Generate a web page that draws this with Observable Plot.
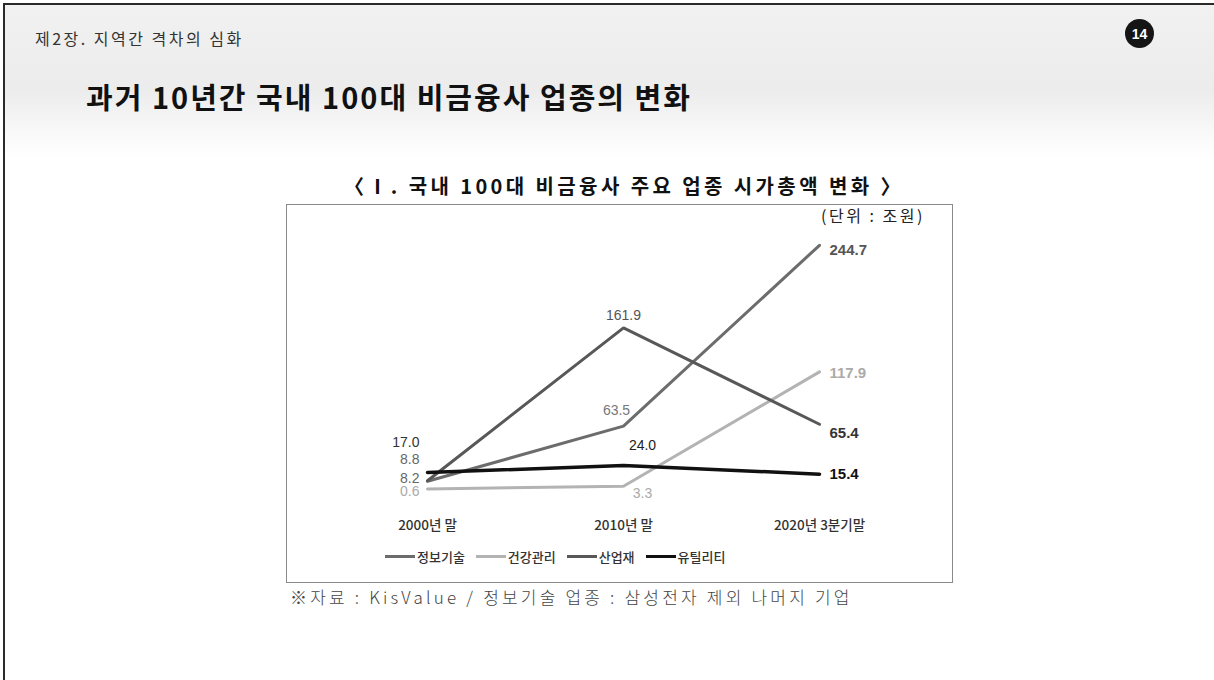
<!DOCTYPE html>
<html><head><meta charset="utf-8">
<script src="https://cdn.jsdelivr.net/npm/d3@7"></script>
<script src="https://cdn.jsdelivr.net/npm/@observablehq/plot@0.6"></script>
<style>
html,body{margin:0;padding:0;background:#fff;}
#page{position:relative;width:1214px;height:680px;overflow:hidden;font-family:"Noto Sans CJK KR","Noto Sans",sans-serif;box-sizing:border-box;border-left:2px solid #2a2a2a;border-top:2px solid #2a2a2a;margin-left:3px;margin-top:3px;}
.hdr{position:absolute;left:0;top:0;width:100%;height:155px;background:linear-gradient(#f1f1f1 0%,#ececec 55%,#fafafa 85%,#fff 100%);}
.chap{position:absolute;left:30px;top:21px;font-size:16px;color:#333;letter-spacing:2.5px;white-space:nowrap;}
.pgnum{position:absolute;left:1120px;top:14px;width:29px;height:29px;border-radius:50%;background:#151515;color:#fff;font:bold 14px "Liberation Sans",sans-serif;display:flex;align-items:center;justify-content:center;}
.title{position:absolute;left:81px;top:70px;font-size:29px;font-weight:bold;color:#111;letter-spacing:2px;white-space:nowrap;}
.ctitle{position:absolute;left:339px;top:166px;font-size:20px;font-weight:bold;color:#111;letter-spacing:3.4px;white-space:nowrap;}
.box{position:absolute;left:281px;top:199px;width:665px;height:377px;border:1.5px solid #8a8a8a;background:#fff;}
.unit{position:absolute;left:534px;top:-2px;font-size:16px;color:#222;letter-spacing:2.5px;white-space:nowrap;}
#chart{position:absolute;left:0;top:0;}
.legend{position:absolute;left:98px;top:342px;display:flex;align-items:center;font-size:13px;color:#333;font-weight:500;white-space:nowrap;}
.legend .it{display:flex;align-items:center;margin-right:11px;}
.legend .sw{width:30px;height:3px;margin-right:2px;}
.note{position:absolute;left:285px;top:579px;font-size:17px;color:#444;letter-spacing:3.2px;white-space:nowrap;font-weight:300;}
</style></head>
<body>
<div id="page">
  <div class="hdr"></div>
  <div class="chap">제2장. 지역간 격차의 심화</div>
  <div class="pgnum">14</div>
  <div class="title">과거 10년간 국내 100대 비금융사 업종의 변화</div>
  <div class="ctitle">〈Ⅰ. 국내 100대 비금융사 주요 업종 시가총액 변화 〉</div>
  <div class="box">
    <div class="unit">(단위 : 조원)</div>
    <div id="chart"></div>
    <div class="legend" id="legend"></div>
  </div>
  <div class="note">※자료 : KisValue / 정보기술 업종 : 삼성전자 제외 나머지 기업</div>
</div>
<script>
// ---- data ----
const periods = ["2000년 말", "2010년 말", "2020년 3분기말"];
const sectors = ["정보기술", "건강관리", "산업재", "유틸리티"];
const itValues = [8.2, 63.5, 244.7];
const healthValues = [0.6, 3.3, 117.9];
const industrialValues = [8.8, 161.9, 65.4];
const utilityValues = [17.0, 24.0, 15.4];

// ---- styles ----
const colors = {"정보기술": "#6c6c6c", "건강관리": "#b3b3b3", "산업재": "#585858", "유틸리티": "#111111"};
const widths = {"정보기술": 3, "건강관리": 3, "산업재": 3, "유틸리티": 3.5};
const labelColors = {"정보기술": ["#666", "#777", "#555"], "건강관리": ["#aaa", "#aaa", "#aaa"], "산업재": ["#666", "#555", "#333"], "유틸리티": ["#333", "#222", "#111"]};
// per-label offsets [dx, dy]
const labelOffsets = {
  "정보기술": [[-8, -3], [-7, -16], [10, 5]],
  "건강관리": [[-8, 3], [19, 7], [10, 1]],
  "산업재": [[-8, -21], [0, -12], [10, 9]],
  "유틸리티": [[-8, -30], [19, -20], [10, 0]]
};

const seriesValues = {"정보기술": itValues, "건강관리": healthValues, "산업재": industrialValues, "유틸리티": utilityValues};
const rows = [];
for (const s of sectors) periods.forEach((p, i) => rows.push({sector: s, period: p, i, value: seriesValues[s][i]}));

const drawOrder = ["건강관리", "정보기술", "산업재", "유틸리티"];
const marks = [];
for (const s of drawOrder) {
  marks.push(Plot.line(rows.filter(d => d.sector === s), {x: "period", y: "value", stroke: colors[s], strokeWidth: widths[s], strokeLinejoin: "miter"}));
}
for (const s of sectors) {
  for (const d of rows.filter(r => r.sector === s)) {
    const [dx, dy] = labelOffsets[s][d.i];
    const anchor = d.i === 0 ? "end" : d.i === 2 ? "start" : "middle";
    marks.push(Plot.text([d], {
      x: "period", y: "value", text: r => r.value.toFixed(1),
      dx, dy, textAnchor: anchor,
      fill: labelColors[s][d.i],
      fontSize: d.i === 2 ? 15 : 14,
      fontWeight: d.i === 2 ? "bold" : "normal",
      fontFamily: "'Liberation Sans', Arial, sans-serif"
    }));
  }
}
marks.push(Plot.axisX({tickSize: 0, tickPadding: 31, fontSize: 13.5, fill: "#333", fontWeight: 500, label: null}));

const chart = Plot.plot({
  width: 664, height: 376,
  marginLeft: 140, marginRight: 132, marginTop: 34.5, marginBottom: 92,
  x: {type: "point", domain: periods, padding: 0},
  y: {domain: [0, 250], axis: null},
  style: {background: "transparent", fontFamily: "'Noto Sans CJK KR', sans-serif", overflow: "visible"},
  marks
});
document.getElementById("chart").appendChild(chart);

const lg = document.getElementById("legend");
for (const s of sectors) {
  const it = document.createElement("div");
  it.className = "it";
  it.innerHTML = `<span class="sw" style="background:${colors[s]}"></span><span>${s}</span>`;
  lg.appendChild(it);
}
</script>
</body></html>
